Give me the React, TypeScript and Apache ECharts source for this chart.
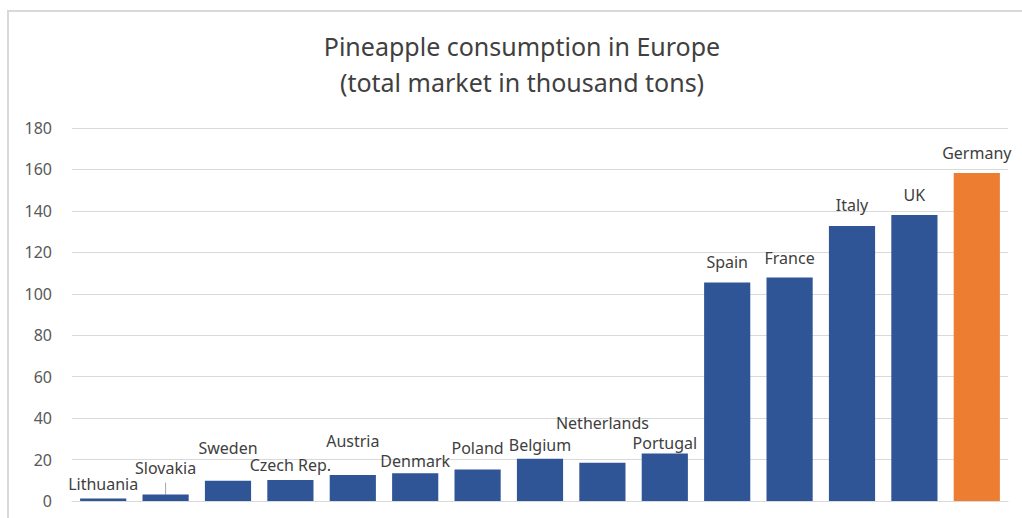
import React, { useEffect, useRef } from "react";
import * as echarts from "echarts";

const countries = [
  "Lithuania", "Slovakia", "Sweden", "Czech Rep.", "Austria", "Denmark", "Poland",
  "Belgium", "Netherlands", "Portugal", "Spain", "France", "Italy", "UK", "Germany",
];
const consumption = [1.2, 3.1, 9.8, 10.1, 12.5, 13.4, 15.2, 20.4, 18.5, 22.9, 105.4, 107.8, 132.7, 138.0, 158.3];
const highlighted = ["Germany"];
const yTicks = { min: 0, max: 180, interval: 20 };
const titleLines = ["Pineapple consumption in Europe", "(total market in thousand tons)"];

// label vertical nudges (style only)
const labelDy = [-6, -18, -24, -6, -25, -3, -13, -5, -31, -2, -12, -11, -12, -11, -11];
const leaderLineFor = ["Slovakia"];

const BLUE = "#2f5597";
const ORANGE = "#ed7d31";

export default function App() {
  const ref = useRef<HTMLDivElement>(null);
  useEffect(() => {
    if (!ref.current) return;
    const chart = echarts.init(ref.current, null, { renderer: "svg" });
    const data = countries.map((c, i) => ({
      value: consumption[i],
      itemStyle: { color: highlighted.includes(c) ? ORANGE : BLUE },
      label: { offset: [0, labelDy[i]] },
    }));
    chart.setOption({
      animation: false,
      backgroundColor: "#ffffff",
      grid: { left: 72, right: 14, top: 128, bottom: 17 },
      xAxis: {
        type: "category",
        data: countries,
        axisLine: { show: true, lineStyle: { color: "#d9d9d9", width: 1 } },
        axisTick: { show: false },
        axisLabel: { show: false },
      },
      yAxis: {
        type: "value",
        min: yTicks.min,
        max: yTicks.max,
        interval: yTicks.interval,
        axisLine: { show: false },
        axisTick: { show: false },
        splitLine: { lineStyle: { color: "#d9d9d9", width: 1 } },
        axisLabel: {
          color: "#595959",
          fontFamily: "Noto Sans",
          fontSize: 16,
          margin: 20,
        },
      },
      series: [
        {
          type: "bar",
          data,
          barCategoryGap: "26%",
          label: {
            show: true,
            position: "top",
            distance: 0,
            formatter: "{b}",
            fontFamily: "Noto Sans",
            fontSize: 16,
            lineHeight: 18,
            color: "#404040",
          },
        },
      ],
    });

    const graphics: any[] = [
      {
        type: "rect",
        silent: true,
        shape: { x: 8, y: 11, width: 1040, height: 540 },
        style: { fill: "none", stroke: "#d9d9d9", lineWidth: 2 },
      },
      {
        type: "text",
        silent: true,
        x: 522,
        y: 28,
        style: {
          text: titleLines.join("\n"),
          fill: "#404040",
          fontFamily: "Noto Sans",
          fontSize: 25,
          lineHeight: 36,
          align: "center",
          verticalAlign: "top",
        },
      },
    ];
    leaderLineFor.forEach((name) => {
      const i = countries.indexOf(name);
      const p = chart.convertToPixel({ seriesIndex: 0 }, [i, consumption[i]]) as number[];
      graphics.push({
        type: "line",
        silent: true,
        shape: { x1: p[0], y1: p[1], x2: p[0], y2: p[1] - 12 },
        style: { stroke: "#a6a6a6", lineWidth: 1 },
      });
    });
    chart.setOption({ graphic: graphics });

    return () => chart.dispose();
  }, []);
  return (
    <div
      ref={ref}
      style={{ position: "absolute", left: 0, top: 0, width: 1022, height: 518 }}
    />
  );
}
